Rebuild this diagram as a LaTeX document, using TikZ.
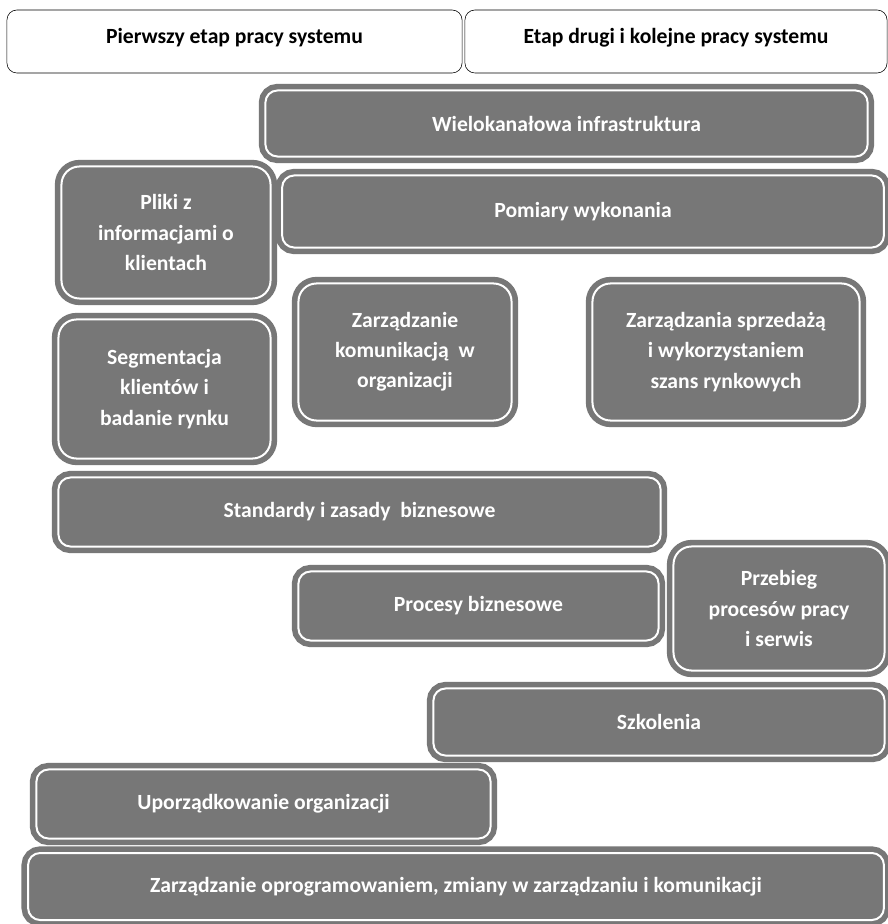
\documentclass[tikz,border=0pt]{standalone}
\usepackage{fontspec}
\setmainfont{Carlito}
\usepackage{tikz}
\definecolor{blokszary}{HTML}{777777}
\tikzset{
  naglowek/.style={draw=black, thin, rounded corners=0.25cm, fill=white,
    text depth=0.3cm, font=\fontsize{15.4pt}{21pt}\selectfont\bfseries},
  blok/.style={draw=blokszary, fill=blokszary, line width=0.14cm,
    double=white, double distance=0.05cm, rounded corners=0.3cm,
    text=white, align=center, font=\fontsize{15.4pt}{21.5pt}\selectfont\bfseries},
  wysoki/.style={blok, rounded corners=0.45cm}
}

\begin{document}
\begin{tikzpicture}[x=0.025cm, y=-0.025cm]

    \useasboundingbox[fill=white] (0,0) rectangle (887,924);

    \node[naglowek, minimum width=11.375cm, minimum height=1.575cm] (etap1) at (234.5,41.5) {Pierwszy etap pracy systemu};
    \node[naglowek, minimum width=10.55cm, minimum height=1.575cm] (etap2) at (676,41.5) {Etap drugi i kolejne pracy systemu};

    \node[blok, minimum width=15.05cm, minimum height=1.65cm] (wielo) at (566.5,123.5) {Wielokanałowa infrastruktura};
    \node[blok, minimum width=15.04cm, minimum height=1.8cm] (pomiary) at (583,211.5) {Pomiary wykonania};

    \node[wysoki, minimum width=5.225cm, minimum height=3.3cm] (pliki) at (166,232.5) {Pliki z\\informacjami o\\klientach};
    \node[wysoki, minimum width=5.3cm, minimum height=3.475cm] (segment) at (164.5,389) {Segmentacja\\klientów i\\badanie rynku};
    \node[wysoki, minimum width=5.325cm, minimum height=3.425cm] (komunik) at (405,352) {Zarządzanie\\komunikacją\ \ w\\organizacji};
    \node[wysoki, minimum width=6.675cm, minimum height=3.425cm] (sprzedaz) at (726,352) {Zarządzania sprzedażą\\i wykorzystaniem\\szans rynkowych};

    \node[blok, minimum width=15.05cm, minimum height=1.725cm] (standardy) at (359.5,512) {Standardy i zasady\ \ biznesowe};
    \node[blok, minimum width=9cm, minimum height=1.725cm] (procesy) at (478.5,606) {Procesy biznesowe};
    \node[wysoki, minimum width=5.275cm, minimum height=3.1cm] (przebieg) at (779,608.5) {Przebieg\\procesów pracy\\i serwis};

    \node[blok, minimum width=11.275cm, minimum height=1.675cm] (szkolenia) at (659,722) {Szkolenia};
    \node[blok, minimum width=11.35cm, minimum height=1.725cm] (porzadek) at (263.5,804) {Uporządkowanie organizacji};
    \node[blok, minimum width=21.39cm, minimum height=1.675cm] (oprogram) at (456,886.5) {Zarządzanie oprogramowaniem, zmiany w zarządzaniu i komunikacji};

\end{tikzpicture}
\end{document}
